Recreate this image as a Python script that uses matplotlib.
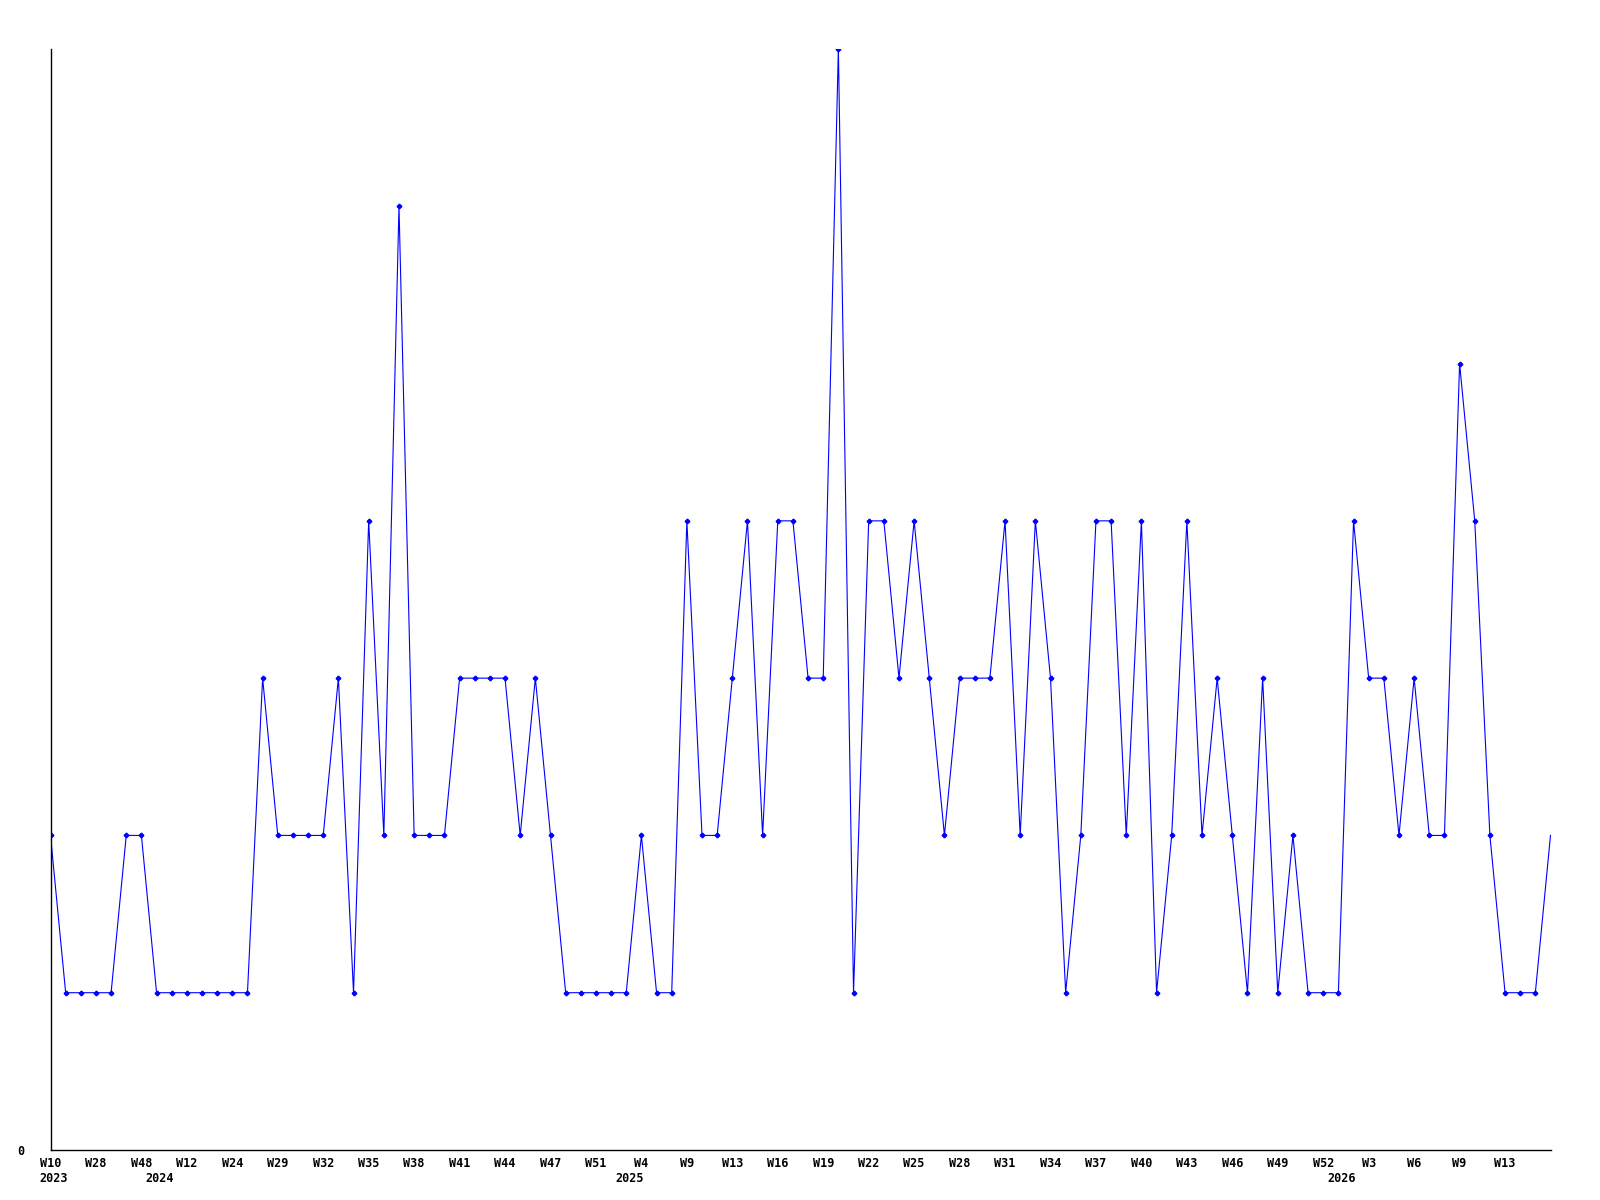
import matplotlib
matplotlib.use("Agg")
import matplotlib.pyplot as plt
from matplotlib.transforms import blended_transform_factory, offset_copy

values = [2, 1, 1, 1, 1, 2, 2, 1, 1, 1,
          1, 1, 1, 1, 3, 2, 2, 2, 2, 3,
          1, 4, 2, 6, 2, 2, 2, 3, 3, 3,
          3, 2, 3, 2, 1, 1, 1, 1, 1, 2,
          1, 1, 4, 2, 2, 3, 4, 2, 4, 4,
          3, 3, 7, 1, 4, 4, 3, 4, 3, 2,
          3, 3, 3, 4, 2, 4, 3, 1, 2, 4,
          4, 2, 4, 1, 2, 4, 2, 3, 2, 1,
          3, 1, 2, 1, 1, 1, 4, 3, 3, 2,
          3, 2, 2, 5, 4, 2, 1, 1, 1, 2]

tick_labels = ["W10", "W28", "W48", "W12", "W24", "W29", "W32", "W35", "W38",
               "W41", "W44", "W47", "W51", "W4", "W9", "W13", "W16", "W19",
               "W22", "W25", "W28", "W31", "W34", "W37", "W40", "W43", "W46",
               "W49", "W52", "W3", "W6", "W9", "W13"]
years = ["2023", "2024", "2025", "2026"]
year_pos = [0, 7, 38, 85]

font = dict(family="DejaVu Sans Mono", fontweight="bold", fontsize=8.5)

fig = plt.figure(figsize=(16, 12), dpi=100)
ax = fig.add_axes([50.5 / 1600, 50 / 1200, 1500 / 1600, 1101 / 1200])

x = list(range(len(values)))
ax.plot(x, values, color="#0000ff", linewidth=0.8, marker="P", markersize=3,
        markevery=list(range(len(values) - 1)))

ax.set_xlim(0, len(values) - 1)
ax.set_ylim(0, max(values))

for side in ["top", "right"]:
    ax.spines[side].set_visible(False)
for side in ["left", "bottom"]:
    ax.spines[side].set_color("black")
    ax.spines[side].set_linewidth(1.0)

ax.set_xticks(x[:len(tick_labels) * 3:3])
ax.set_xticklabels(tick_labels, **font)
ax.set_yticks([0])
ax.set_yticklabels(["0"], **font)
ax.tick_params(axis="x", length=0, pad=5)
ax.tick_params(axis="y", length=0, pad=19)

# year row under the week labels
trans = blended_transform_factory(ax.transData, ax.transAxes)
for yr, pos in zip(years, year_pos):
    t = offset_copy(trans, fig=fig, x=-11, y=-28, units="dots")
    ax.text(pos, 0, yr, transform=t, ha="left", va="center", **font)

fig.savefig("out.png", dpi=100, facecolor="white")
